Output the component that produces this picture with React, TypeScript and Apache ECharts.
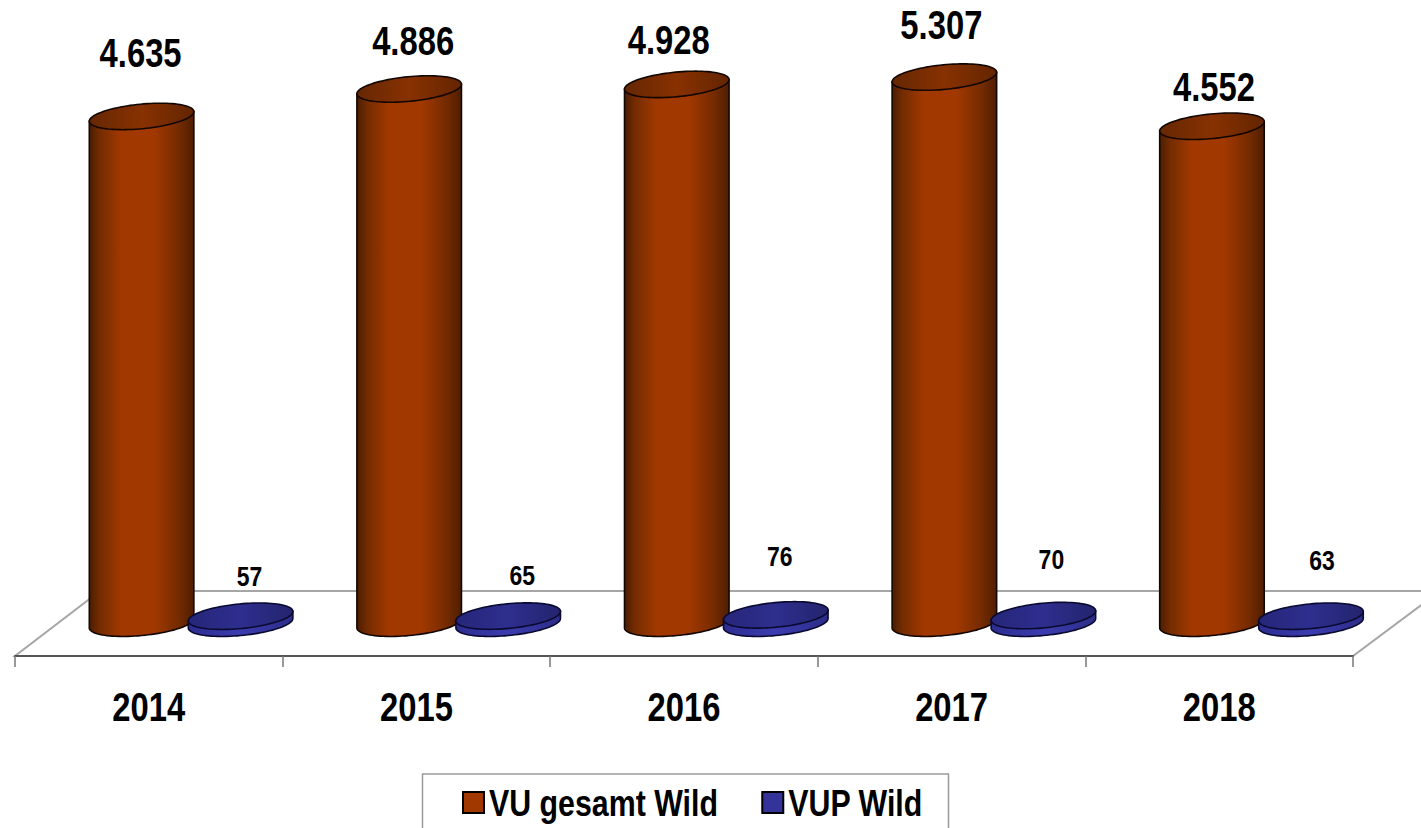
import React, { useEffect, useRef } from "react";
import * as echarts from "echarts";

const years = ["2014", "2015", "2016", "2017", "2018"];
const vuLabels = ["4.635", "4.886", "4.928", "5.307", "4.552"];
// Drawn heights (the 2017 column is drawn shorter than its label says).
const vuHeights = [4635, 4886, 4928, 4995, 4545];
const vupLabels = ["57", "65", "76", "70", "63"];
const vupValues = [57, 65, 76, 70, 63];

const vuLabelOffsetY = [-63, -48, -44, -52, -39];
const vuLabelOffsetX = [-1, 4, -8, -3, 2];
const vupLabelY = [576, 575, 556, 559, 560];
const vupLabelOffsetX = [9, 14, 4, 8, 11];

const FONT = '"Liberation Sans", Arial, sans-serif';
const NARROW = 0.82;
const TILT = (-5.5 * Math.PI) / 180;

function ellipsePoint(cx: number, cy: number, a: number, b: number, t: number): number[] {
  return [
    cx + a * Math.cos(t) * Math.cos(TILT) - b * Math.sin(t) * Math.sin(TILT),
    cy + a * Math.cos(t) * Math.sin(TILT) + b * Math.sin(t) * Math.cos(TILT),
  ];
}
function ellipsePoints(cx: number, cy: number, a: number, b: number): number[][] {
  const pts: number[][] = [];
  for (let i = 0; i < 96; i++) pts.push(ellipsePoint(cx, cy, a, b, (i / 96) * 2 * Math.PI));
  return pts;
}
function bodyPoints(cx: number, yTop: number, yBase: number, a: number, b: number): number[][] {
  const t0 = Math.atan2(-b * Math.sin(TILT), a * Math.cos(TILT));
  const pts: number[][] = [ellipsePoint(cx, yTop, a, b, t0 + Math.PI), ellipsePoint(cx, yTop, a, b, t0)];
  for (let i = 0; i <= 48; i++) pts.push(ellipsePoint(cx, yBase, a, b, t0 + (i / 48) * Math.PI));
  return pts;
}
const hGrad = (stops: [number, string][]) => ({
  type: "linear",
  x: 0,
  y: 0,
  x2: 1,
  y2: 0,
  colorStops: stops.map(([offset, color]) => ({ offset, color })),
});

function cylinder(
  params: any,
  api: any,
  shift: number,
  body: any,
  top: any,
  stroke: string,
  lineWidth: number,
  minH: number
) {
  const base = api.coord([api.value(0), 0]);
  const head = api.coord([api.value(0), api.value(1)]);
  const band = api.size([1, 0])[0];
  const cx = base[0] + band * shift;
  const a = 52.5;
  const b = 12.3;
  const yTop = Math.min(head[1], base[1] - minH);
  return {
    body: {
      type: "polygon",
      shape: { points: bodyPoints(cx, yTop, base[1], a, b) },
      style: { fill: body, stroke, lineWidth },
    },
    top: {
      type: "polygon",
      shape: { points: ellipsePoints(cx, yTop, a, b) },
      style: { fill: top, stroke, lineWidth },
    },
    cx,
    yTop,
  };
}

const option: any = {
  animation: false,
  backgroundColor: "#ffffff",
  grid: { left: 15, right: 68, top: 0, height: 656 },
  xAxis: {
    type: "category",
    data: years,
    boundaryGap: true,
    axisLine: { show: true, onZero: false, lineStyle: { color: "#555555", width: 2 } },
    axisTick: { show: true, length: 11, lineStyle: { color: "#777777", width: 1.5 } },
    axisLabel: {
      margin: 31,
      color: "#000000",
      fontFamily: FONT,
      fontWeight: "bold",
      fontSize: 40,
      lineHeight: 40,
    },
  },
  yAxis: { type: "value", show: false, min: -300, max: 5700, splitLine: { show: false } },
  legend: {
    show: true,
    left: 462,
    top: 784,
    padding: 0,
    itemWidth: 21,
    itemHeight: 21,
    itemGap: -7,
    data: [
      {
        name: "VU gesamt Wild",
        icon: "rect",
        itemStyle: { color: "#a03800", borderColor: "#000000", borderWidth: 2 },
      },
      {
        name: "VUP Wild",
        icon: "rect",
        itemStyle: { color: "#33339a", borderColor: "#000000", borderWidth: 2 },
      },
    ],
    textStyle: { fontFamily: FONT, fontWeight: "bold", fontSize: 37, color: "#000000" },
  },
  graphic: [
    {
      type: "polygon",
      z: 0,
      silent: true,
      shape: { points: [[15, 656], [1353, 656], [1440, 591], [100, 591]] },
      style: { fill: "#ffffff", stroke: "#a6a6a6", lineWidth: 2 },
    },
    {
      type: "polyline",
      z: 0,
      silent: true,
      shape: { points: [[422.5, 840], [422.5, 774], [948.5, 774], [948.5, 840]] },
      style: { fill: "none", stroke: "#9a9a9a", lineWidth: 1.5 },
    },
  ],
  series: [
    {
      name: "VU gesamt Wild",
      type: "custom",
      clip: false,
      z: 3,
      itemStyle: { color: "#a03800" },
      encode: { x: 0, y: 1 },
      data: vuHeights.map((v, i) => [i, v]),
      renderItem: (params: any, api: any) => {
        const c = cylinder(
          params,
          api,
          -0.027,
          hGrad([
            [0, "#4a1d02"],
            [0.1, "#742c01"],
            [0.3, "#a03800"],
            [0.62, "#a03800"],
            [0.85, "#762b00"],
            [1, "#4f1e00"],
          ]),
          hGrad([
            [0, "#652703"],
            [0.5, "#883101"],
            [1, "#632500"],
          ]),
          "#120600",
          1.6,
          0
        );
        const i = params.dataIndex;
        return {
          type: "group",
          children: [
            c.body,
            c.top,
            {
              type: "text",
              style: {
                x: c.cx + vuLabelOffsetX[i],
                y: c.yTop + vuLabelOffsetY[i],
                text: vuLabels[i],
                align: "center",
                verticalAlign: "middle",
                font: `bold 40px ${FONT}`,
                fill: "#000000",
              },
            },
          ],
        };
      },
    },
    {
      name: "VUP Wild",
      type: "custom",
      clip: false,
      z: 4,
      itemStyle: { color: "#33339a" },
      encode: { x: 0, y: 1 },
      data: vupValues.map((v, i) => [i, v]),
      renderItem: (params: any, api: any) => {
        const c = cylinder(
          params,
          api,
          0.343,
          hGrad([
            [0, "#2c2c90"],
            [0.5, "#3c3cb0"],
            [1, "#2c2c88"],
          ]),
          hGrad([
            [0, "#26267a"],
            [0.5, "#2e2e8e"],
            [1, "#24246e"],
          ]),
          "#0a0a30",
          1.6,
          7
        );
        const i = params.dataIndex;
        return {
          type: "group",
          children: [
            c.body,
            c.top,
            {
              type: "text",
              style: {
                x: c.cx + vupLabelOffsetX[i],
                y: vupLabelY[i],
                text: vupLabels[i],
                align: "center",
                verticalAlign: "middle",
                font: `bold 28px ${FONT}`,
                fill: "#000000",
              },
            },
          ],
        };
      },
    },
  ],
};

export default function App() {
  const ref = useRef<HTMLDivElement>(null);
  useEffect(() => {
    document.body.style.margin = "0";
    const chart = echarts.init(ref.current!, null, { renderer: "svg" });
    chart.setOption(option);
    // No narrow bold face is installed: condense every text about its own anchor.
    ref.current!.querySelectorAll("svg text").forEach((t) => {
      const x = parseFloat(t.getAttribute("x") || "0");
      const old = t.getAttribute("transform") || "";
      t.setAttribute("transform", `${old} translate(${x} 0) scale(${NARROW} 1) translate(${-x} 0)`);
    });
    return () => chart.dispose();
  }, []);
  return <div ref={ref} style={{ width: 1421, height: 828 }} />;
}
